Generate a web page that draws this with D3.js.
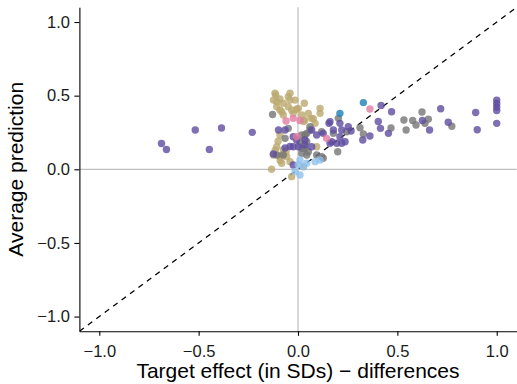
<!DOCTYPE html>
<html>
<head>
<meta charset="utf-8">
<script src="https://cdn.jsdelivr.net/npm/d3@7"></script>
<style>
  html, body { margin: 0; padding: 0; background: #fff; }
  svg { display: block; font-family: "Liberation Sans", Arial, Helvetica, sans-serif; }
</style>
</head>
<body>
<svg id="chart" width="517" height="384"></svg>
<script>
// Axis ticks
const xTicks = [-1.0, -0.5, 0.0, 0.5, 1.0];
const yTicks = [-1.0, -0.5, 0.0, 0.5, 1.0];

// Groups, drawn in this order (later groups on top)
const groupNames = ["khaki", "gray", "purple", "pink", "lightblue", "darkblue"];
const groupColors = ["#bba96f", "#767676", "#5e4c9f", "#e27ca1", "#8ec1ec", "#1b7fb8"];

// Each group: target effect (x) and average prediction (y)
const khakiX = [-0.112, -0.124, -0.107, -0.091, -0.049, -0.040, -0.015, -0.074, -0.049, 0.002, 0.032, -0.091, -0.032, -0.024, 0.019, 0.052, 0.069, 0.111, 0.111, -0.074, 0.035, 0.086, -0.107, -0.124, -0.133, -0.032, -0.091, -0.040, -0.082, 0.027, 0.094, -0.074, -0.082, -0.057, -0.082, -0.107, -0.116, -0.040, -0.091, -0.007, 0.028, 0.077, -0.100, -0.115, -0.060, -0.090];
const khakiY = [0.504, 0.470, 0.459, 0.477, 0.493, 0.470, 0.470, 0.448, 0.425, 0.414, 0.448, 0.403, 0.403, 0.380, 0.369, 0.380, 0.346, 0.414, 0.380, 0.369, 0.335, 0.312, 0.153, 0.097, 0.000, -0.050, 0.086, 0.052, 0.041, 0.018, 0.153, 0.131, 0.097, 0.086, 0.391, 0.425, 0.516, 0.516, 0.233, 0.408, 0.325, 0.343, 0.190, 0.130, 0.120, 0.060];

const grayX = [-0.128, -0.049, 0.060, 0.035, 0.019, 0.044, 0.010, 0.035, 0.052, 0.019, 0.044, 0.094, 0.119, 0.127, -0.107, -0.074, 0.119, 0.203, 0.178, 0.245, 0.200, 0.312, 0.329, 0.468, 0.533, 0.544, 0.577, 0.594, 0.624, 0.656, 0.639, 0.774, 0.060, -0.065, 0.044, 0.019];
const grayY = [0.372, 0.278, 0.289, 0.233, 0.233, 0.244, 0.187, 0.143, 0.119, 0.109, 0.097, 0.097, 0.086, 0.075, 0.097, 0.097, 0.255, 0.346, 0.244, 0.255, 0.119, 0.282, 0.240, 0.280, 0.335, 0.267, 0.331, 0.301, 0.389, 0.341, 0.312, 0.292, 0.267, 0.210, 0.187, 0.143];

const purpleX = [-0.687, -0.662, -0.517, -0.385, -0.446, -0.230, -0.098, -0.124, -0.040, -0.024, 0.002, 0.035, -0.024, -0.024, 0.035, 0.069, 0.094, 0.127, 0.156, 0.161, 0.178, 0.211, 0.220, 0.211, 0.170, 0.195, 0.220, 0.253, 0.267, 0.326, 0.362, 0.404, 0.415, 0.455, 0.418, 0.471, 0.718, 0.756, 0.894, 0.902, 1.0, 1.0, 1.0, 1.0, 1.0, 0.626, 0.662, -0.065, 0.161, 0.237, -0.065, -0.007, 0.069];
const purpleY = [0.175, 0.134, 0.267, 0.280, 0.134, 0.251, 0.267, 0.104, 0.155, 0.153, 0.153, 0.165, 0.029, 0.221, 0.199, 0.153, 0.233, 0.244, 0.312, 0.323, 0.267, 0.312, 0.267, 0.221, 0.187, 0.177, 0.177, 0.289, 0.260, 0.199, 0.226, 0.325, 0.278, 0.244, 0.434, 0.391, 0.411, 0.319, 0.386, 0.269, 0.470, 0.447, 0.423, 0.399, 0.312, 0.331, 0.267, 0.267, 0.177, 0.187, 0.145, 0.199, 0.267];

const pinkX = [-0.060, -0.024, 0.010, 0.144, 0.362, -0.007];
const pinkY = [0.328, 0.346, 0.331, 0.210, 0.409, 0.221];

const lightblueX = [0.002, 0.044, 0.086, 0.111, -0.015, 0.010, 0.010, 0.027];
const lightblueY = [0.029, 0.041, 0.052, 0.063, -0.016, -0.039, 0.063, 0.018];

const darkblueX = [0.329, 0.211];
const darkblueY = [0.453, 0.380];

const groupX = [khakiX, grayX, purpleX, pinkX, lightblueX, darkblueX];
const groupY = [khakiY, grayY, purpleY, pinkY, lightblueY, darkblueY];

// Layout
const width = 517, height = 384;
const margin = { top: 7.3, right: 0.4, bottom: 52.7, left: 79.4 };

const svg = d3.select("#chart");

const x = d3.scaleLinear().domain([-1.1, 1.1]).range([margin.left, width - margin.right]);
const y = d3.scaleLinear().domain([-1.1, 1.1]).range([height - margin.bottom, margin.top]);

const fmt = d3.format(".1f");

// Clip for the panel
svg.append("clipPath").attr("id", "panel")
  .append("rect")
  .attr("x", x(-1.1)).attr("y", y(1.1))
  .attr("width", x(1.1) - x(-1.1)).attr("height", y(-1.1) - y(1.1));

// Zero reference lines
svg.append("line")
  .attr("x1", x(0)).attr("x2", x(0))
  .attr("y1", y(1.1)).attr("y2", y(-1.1))
  .attr("stroke", "#bebebe").attr("stroke-width", 1.2);
svg.append("line")
  .attr("x1", x(-1.1)).attr("x2", x(1.1))
  .attr("y1", y(0)).attr("y2", y(0))
  .attr("stroke", "#bebebe").attr("stroke-width", 1.2);

// Identity line
svg.append("line")
  .attr("clip-path", "url(#panel)")
  .attr("x1", x(-1.1)).attr("y1", y(-1.1))
  .attr("x2", x(1.1)).attr("y2", y(1.1))
  .attr("stroke", "#000").attr("stroke-width", 1.3)
  .attr("stroke-dasharray", "5.5,5");

// Points
const pts = svg.append("g").attr("clip-path", "url(#panel)");
groupNames.forEach((name, gi) => {
  const data = groupX[gi].map((v, i) => ({ x: v, y: groupY[gi][i] }));
  pts.append("g").attr("class", name)
    .selectAll("circle")
    .data(data)
    .join("circle")
    .attr("cx", d => x(d.x))
    .attr("cy", d => y(d.y))
    .attr("r", 3.7)
    .attr("fill", groupColors[gi])
    .attr("fill-opacity", 0.8);
});

// Axes
const xAxis = svg.append("g")
  .attr("transform", `translate(0,${y(-1.1)})`)
  .call(d3.axisBottom(x).tickValues(xTicks).tickFormat(fmt).tickSize(4.5).tickPadding(9).tickSizeOuter(0));
const yAxis = svg.append("g")
  .attr("transform", `translate(${x(-1.1)},0)`)
  .call(d3.axisLeft(y).tickValues(yTicks).tickFormat(fmt).tickSize(5).tickPadding(4.5).tickSizeOuter(0));

[xAxis, yAxis].forEach(a => {
  a.select(".domain").attr("stroke", "#000").attr("stroke-width", 1.1);
  a.selectAll(".tick line").attr("stroke", "#000").attr("stroke-width", 1.1);
  a.selectAll(".tick text").attr("fill", "#1a1a1a").style("font-size", "16.5px")
    .style("font-family", "'Liberation Sans', Arial, sans-serif");
});

// Axis titles
svg.append("text")
  .attr("x", x(0)).attr("y", 377.5)
  .attr("text-anchor", "middle")
  .attr("fill", "#000")
  .style("font-size", "21px")
  .text("Target effect (in SDs) \u2212 differences");

svg.append("text")
  .attr("transform", `translate(23.3,${y(0)}) rotate(-90)`)
  .attr("text-anchor", "middle")
  .attr("fill", "#000")
  .style("font-size", "21px")
  .text("Average prediction");
</script>
</body>
</html>
